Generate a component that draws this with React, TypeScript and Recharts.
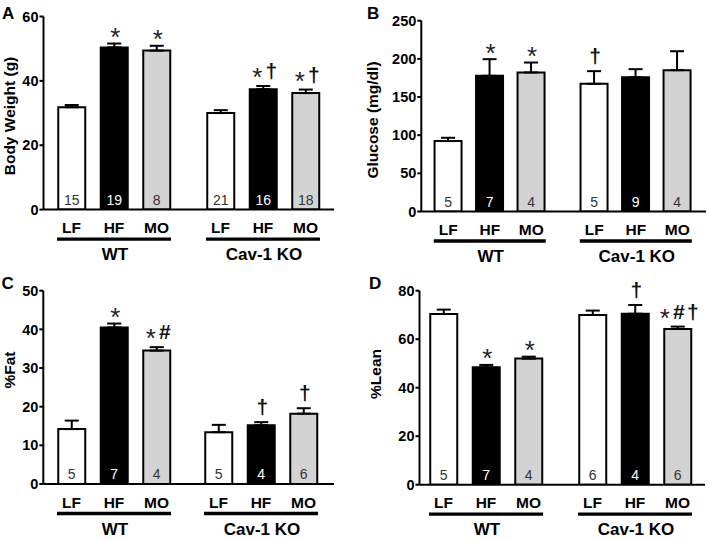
import React from 'react';
import { BarChart, Bar, XAxis, YAxis, ErrorBar, Cell, LabelList, Customized } from 'recharts';

const FONT = 'Arial, "Liberation Sans", Helvetica, sans-serif';

const diets = ['LF', 'HF', 'MO', 'LF', 'HF', 'MO'];
const groups = ['WT', 'Cav-1 KO'];
const barFills = ['#ffffff', '#000000', '#d3d3d3', '#ffffff', '#000000', '#d3d3d3'];

const bodyWeight = [31.8, 50.4, 49.4, 30.0, 37.4, 36.2];
const bodyWeightSem = [0.7, 1.2, 1.5, 0.9, 1.0, 1.1];
const bodyWeightN = [15, 19, 8, 21, 16, 18];
const bodyWeightSig = ['', '*', '*', '', '*†', '*†'];
const bodyWeightTicks = [0, 20, 40, 60];

const glucose = [92.3, 177.8, 182.2, 167.3, 176.0, 185.2];
const glucoseSem = [4.3, 21.8, 13.0, 16.6, 10.5, 24.8];
const glucoseN = [5, 7, 4, 5, 9, 4];
const glucoseSig = ['', '*', '*', '†', '', ''];
const glucoseTicks = [0, 50, 100, 150, 200, 250];

const fat = [14.2, 40.5, 34.5, 13.4, 15.2, 18.2];
const fatSem = [2.2, 1.0, 0.9, 1.9, 0.8, 1.4];
const fatN = [5, 7, 4, 5, 4, 6];
const fatSig = ['', '*', '*#', '', '†', '†'];
const fatTicks = [0, 10, 20, 30, 40, 50];

const lean = [70.4, 48.4, 52.0, 70.0, 70.5, 64.2];
const leanSem = [1.8, 1.0, 0.8, 1.8, 3.6, 1.0];
const leanN = [5, 7, 4, 6, 4, 6];
const leanSig = ['', '*', '*', '', '†', '*#†'];
const leanTicks = [0, 20, 40, 60, 80];

interface PanelProps {
  values: number[];
  sems: number[];
  ns: number[];
  sigs: string[];
  ticks: number[];
  letter: string;
  yLabel: string;
  left: number;
  top: number;
  width: number;
  axisX: number;
  plotTop: number;
  axisY: number;
  plotRight: number;
  firstCentre: number;
  spacing: number;
  gap: number;
  labelX: number;
  labelY: number;
  letterX: number;
}

const HEIGHT = 270;
const BAR = 27;

const Panel: React.FC<PanelProps> = (p) => {
  const gapUnits = p.gap / p.spacing;
  const rows = p.values.map((v, i) => ({
    pos: i + (i >= 3 ? gapUnits - 1 : 0),
    value: v,
    err: [0, p.sems[i]],
    n: p.ns[i],
    sig: p.sigs[i],
  }));
  const lo = -(p.firstCentre - p.axisX) / p.spacing;
  const hi = (p.plotRight - p.firstCentre) / p.spacing;
  const yMax = p.ticks[p.ticks.length - 1];
  const pxPerUnit = (p.axisY - p.plotTop) / yMax;
  const xAxisH = 50;

  const renderTick = (props: any) => {
    const { x, y, index } = props;
    return (
      <g fontFamily={FONT} fontWeight="bold" fill="#000">
        <text x={x} y={y + 23.5} textAnchor="middle" fontSize={15.5}>
          {diets[index]}
        </text>
        {index % 3 === 1 && (
          <>
            <line
              x1={x - p.spacing - BAR / 2 - 1}
              x2={x + p.spacing + BAR / 2 + 1}
              y1={y + 29.5}
              y2={y + 29.5}
              stroke="#000"
              strokeWidth={3.3}
            />
            <text x={x + 1} y={y + 50.5} textAnchor="middle" fontSize={17}>
              {groups[Math.floor(index / 3)]}
            </text>
          </>
        )}
      </g>
    );
  };

  const renderN = (props: any) => {
    const { x, y, width, height, value, index } = props;
    return (
      <text
        x={Number(x) + Number(width) / 2}
        y={Number(y) + Number(height) - 5}
        textAnchor="middle"
        fontSize={14}
        fontFamily={FONT}
        fill={index % 3 === 1 ? '#ffffff' : '#333333'}
      >
        {value}
      </text>
    );
  };

  const renderSig = (props: any) => {
    const { x, y, width, value, index } = props;
    if (!value) return null;
    const errTop = Number(y) - p.sems[index] * pxPerUnit;
    const bottom = errTop - 7;
    const chars = String(value).split('');
    const cx = Number(x) + Number(width) / 2 + 1;
    return (
      <g fontFamily={FONT}>
        {chars.map((c, k) => {
          const sx = cx + (k - (chars.length - 1) / 2) * 14;
          if (c === '*') {
            const centreY = chars.length > 1 ? bottom - 7 : bottom - 4.5;
            return (
              <text key={k} x={sx} y={centreY + 14} textAnchor="middle" fontSize={26} fill="#222">
                *
              </text>
            );
          }
          return (
            <text key={k} x={sx} y={bottom - 1} textAnchor="middle" fontSize={21} fontWeight="bold" fill="#111">
              {c}
            </text>
          );
        })}
      </g>
    );
  };

  return (
    <div style={{ position: 'absolute', left: p.left, top: p.top }}>
      <BarChart
        width={p.width}
        height={HEIGHT}
        data={rows}
        margin={{ top: p.plotTop, right: p.width - p.plotRight, left: 0, bottom: HEIGHT - p.axisY - xAxisH }}
      >
        <XAxis
          dataKey="pos"
          type="number"
          domain={[lo, hi]}
          allowDataOverflow
          ticks={rows.map((r) => r.pos)}
          interval={0}
          height={xAxisH}
          tickSize={0}
          tickMargin={0}
          tickLine={false}
          axisLine={{ stroke: '#000', strokeWidth: 2 }}
          tick={renderTick}
        />
        <YAxis
          type="number"
          domain={[0, yMax]}
          allowDataOverflow
          ticks={p.ticks}
          interval={0}
          width={p.axisX}
          tickSize={4}
          tickMargin={1}
          axisLine={{ stroke: '#000', strokeWidth: 2 }}
          tickLine={{ stroke: '#000', strokeWidth: 2 }}
          tick={{ fill: '#000', fontSize: 14.5, fontWeight: 'bold', fontFamily: FONT }}
        />
        <Bar dataKey="value" barSize={BAR} stroke="#000" strokeWidth={2} isAnimationActive={false}>
          {rows.map((r, i) => (
            <Cell key={i} fill={barFills[i]} />
          ))}
          <ErrorBar dataKey="err" direction="y" width={7} stroke="#000" strokeWidth={2} isAnimationActive={false} />
          <LabelList dataKey="n" content={renderN} />
          <LabelList dataKey="sig" content={renderSig} />
        </Bar>
        <Customized
          component={() => (
            <g fontFamily={FONT} fontWeight="bold" fill="#000">
              <text x={p.letterX} y={18.5} fontSize={17}>
                {p.letter}
              </text>
              <text
                transform={`translate(${p.labelX},${p.labelY}) rotate(-90)`}
                textAnchor="middle"
                dominantBaseline="central"
                fontSize={15.5}
              >
                {p.yLabel}
              </text>
            </g>
          )}
        />
      </BarChart>
    </div>
  );
};

export default function App() {
  return (
    <div style={{ position: 'absolute', left: 0, top: 0, width: 709, height: 540, background: '#fff' }}>
      <Panel
        values={bodyWeight} sems={bodyWeightSem} ns={bodyWeightN} sigs={bodyWeightSig} ticks={bodyWeightTicks}
        letter="A" yLabel="Body Weight (g)"
        left={0} top={0} width={354}
        axisX={43.5} plotTop={16.5} axisY={209.6} plotRight={334}
        firstCentre={71.5} spacing={42.5} gap={64}
        labelX={9.5} labelY={116} letterX={2}
      />
      <Panel
        values={glucose} sems={glucoseSem} ns={glucoseN} sigs={glucoseSig} ticks={glucoseTicks}
        letter="B" yLabel="Glucose (mg/dl)"
        left={354} top={0} width={355}
        axisX={67.3} plotTop={20.7} axisY={211.5} plotRight={352}
        firstCentre={94.3} spacing={41.5} gap={63}
        labelX={18} labelY={120} letterX={13}
      />
      <Panel
        values={fat} sems={fatSem} ns={fatN} sigs={fatSig} ticks={fatTicks}
        letter="C" yLabel="%Fat"
        left={0} top={270} width={354}
        axisX={43.3} plotTop={20.7} axisY={214} plotRight={334}
        firstCentre={71.5} spacing={42.5} gap={62}
        labelX={9} labelY={100} letterX={1.5}
      />
      <Panel
        values={lean} sems={leanSem} ns={leanN} sigs={leanSig} ticks={leanTicks}
        letter="D" yLabel="%Lean"
        left={354} top={270} width={355}
        axisX={65.5} plotTop={20.7} axisY={214.7} plotRight={351}
        firstCentre={89.5} spacing={42.5} gap={64}
        labelX={21} labelY={104} letterX={15}
      />
    </div>
  );
}
